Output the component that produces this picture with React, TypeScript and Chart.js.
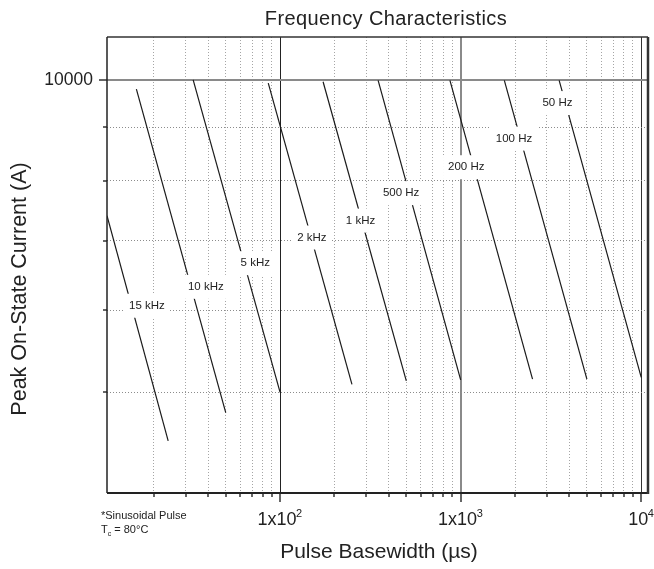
import React, { useEffect, useRef } from 'react';
import { Chart, registerables } from 'chart.js';

Chart.register(...registerables);

const FONT = '"Liberation Sans", Arial, Helvetica, sans-serif';

// Frequency curves (pulse basewidth in µs, peak current in A)
const frequencyLabels = ['15 kHz', '10 kHz', '5 kHz', '2 kHz', '1 kHz', '500 Hz', '200 Hz', '100 Hz', '50 Hz'];
const startWidth = [11, 16, 33, 86, 173, 349, 872, 1745, 3510];
const startCurrent = [7400, 9800, 10000, 9930, 9960, 9990, 9990, 9990, 9990];
const endWidth = [24, 50, 100, 250, 500, 1000, 2500, 5000, 10000];
const endCurrent = [4490, 4780, 5000, 5090, 5130, 5140, 5150, 5150, 5170];
const labelWidth = [18.3, 38.8, 72.9, 150, 279, 468, 1074, 1975, 3434];
const labelCurrent = [6060, 6320, 6660, 7050, 7320, 7780, 8240, 8780, 9500];

// Axes
const xMin = 11;
const xMax = 10900;
const yMin = 4000;
const yMax = 11000;
const xTickValues = [20, 30, 40, 50, 60, 70, 80, 90, 100, 200, 300, 400, 500, 600, 700, 800, 900, 1000, 2000, 3000, 4000, 5000, 6000, 7000, 8000, 9000, 10000];
const yTickValues = [5000, 6000, 7000, 8000, 9000, 10000];
const xMajorValues = [100, 1000, 10000];
const xMajorBase = ['1x10', '1x10', '10'];
const xMajorExp = ['2', '3', '4'];
const yLabeledValues = [10000];

const titleText = 'Frequency Characteristics';
const xTitle = 'Pulse Basewidth (\u00b5s)';
const yTitle = 'Peak On-State Current (A)';
const noteLine1 = '*Sinusoidal Pulse';
const noteLine2 = ['T', 'c', ' = 80\u00b0C'];

export default function App() {
  const ref = useRef<HTMLCanvasElement>(null);

  useEffect(() => {
    const canvas = ref.current;
    if (!canvas) return;

    const overlay = {
      id: 'overlay',
      afterDatasetsDraw(chart: any) {
        const { ctx, scales } = chart;
        const x = scales.x;
        const y = scales.y;
        ctx.save();
        ctx.font = `11.5px ${FONT}`;
        ctx.textAlign = 'center';
        ctx.textBaseline = 'middle';
        frequencyLabels.forEach((t, i) => {
          const px = x.getPixelForValue(labelWidth[i]);
          const py = y.getPixelForValue(labelCurrent[i]);
          const w = ctx.measureText(t).width;
          ctx.fillStyle = '#ffffff';
          ctx.fillRect(px - w / 2 - 5, py - 12, w + 10, 24);
          ctx.fillStyle = '#222222';
          ctx.fillText(t, px, py);
        });
        ctx.restore();
      },
      afterDraw(chart: any) {
        const { ctx, chartArea: a, scales } = chart;
        const x = scales.x;
        const y = scales.y;
        ctx.save();

        // tick marks
        ctx.strokeStyle = '#333333';
        ctx.lineWidth = 1.5;
        xTickValues.forEach((v) => {
          const px = Math.round(x.getPixelForValue(v));
          const len = xMajorValues.includes(v) ? 9 : 4;
          ctx.beginPath();
          ctx.moveTo(px, a.bottom);
          ctx.lineTo(px, a.bottom + len);
          ctx.stroke();
        });
        yTickValues.forEach((v) => {
          const py = Math.round(y.getPixelForValue(v));
          const len = yLabeledValues.includes(v) ? 8 : 4;
          ctx.beginPath();
          ctx.moveTo(a.left - len, py);
          ctx.lineTo(a.left, py);
          ctx.stroke();
        });

        // frame
        ctx.strokeStyle = '#333333';
        ctx.lineWidth = 1.5;
        ctx.beginPath();
        ctx.moveTo(a.left, a.top);
        ctx.lineTo(a.right, a.top);
        ctx.stroke();
        ctx.strokeStyle = '#222222';
        ctx.lineWidth = 1.5;
        ctx.beginPath();
        ctx.moveTo(a.left, a.top);
        ctx.lineTo(a.left, a.bottom);
        ctx.stroke();
        ctx.lineWidth = 2;
        ctx.beginPath();
        ctx.moveTo(a.left, a.bottom);
        ctx.lineTo(a.right, a.bottom);
        ctx.stroke();
        ctx.strokeStyle = '#333333';
        ctx.lineWidth = 2.5;
        ctx.beginPath();
        ctx.moveTo(a.right, a.top);
        ctx.lineTo(a.right, a.bottom + 1);
        ctx.stroke();

        // x labels with superscript exponents
        ctx.fillStyle = '#222222';
        ctx.textAlign = 'left';
        ctx.textBaseline = 'alphabetic';
        xMajorValues.forEach((v, i) => {
          const px = x.getPixelForValue(v);
          ctx.font = `18px ${FONT}`;
          const bw = ctx.measureText(xMajorBase[i]).width;
          ctx.font = `11px ${FONT}`;
          const ew = ctx.measureText(xMajorExp[i]).width;
          const left = px - (bw + ew) / 2;
          ctx.font = `18px ${FONT}`;
          ctx.fillText(xMajorBase[i], left, a.bottom + 32);
          ctx.font = `11px ${FONT}`;
          ctx.fillText(xMajorExp[i], left + bw - 0.5, a.bottom + 24);
        });

        // title
        ctx.fillStyle = '#222222';
        ctx.font = `20px ${FONT}`;
        ctx.textAlign = 'center';
        try { (ctx as any).letterSpacing = '0.4px'; } catch (e) {}
        ctx.fillText(titleText, 386, 25);
        try { (ctx as any).letterSpacing = '0px'; } catch (e) {}

        // x axis title
        ctx.font = `21px ${FONT}`;
        ctx.fillText(xTitle, 379, 558);

        // y axis title
        ctx.save();
        ctx.translate(26, 289);
        ctx.rotate(-Math.PI / 2);
        ctx.font = `21.5px ${FONT}`;
        ctx.textAlign = 'center';
        ctx.fillText(yTitle, 0, 0);
        ctx.restore();

        // note
        ctx.textAlign = 'left';
        ctx.font = `11px ${FONT}`;
        ctx.fillText(noteLine1, 101, 519);
        const tW = ctx.measureText(noteLine2[0]).width;
        ctx.fillText(noteLine2[0], 101, 533);
        ctx.font = `7px ${FONT}`;
        const cW = ctx.measureText(noteLine2[1]).width;
        ctx.fillText(noteLine2[1], 101 + tW, 536);
        ctx.font = `11px ${FONT}`;
        ctx.fillText(noteLine2[2], 101 + tW + cW, 533);

        ctx.restore();
      },
    };

    const datasets = frequencyLabels.map((label, i) => ({
      label,
      data: [
        { x: startWidth[i], y: startCurrent[i] },
        { x: endWidth[i], y: endCurrent[i] },
      ],
      borderColor: '#1a1a1a',
      borderWidth: 1.2,
      pointRadius: 0,
      fill: false,
      tension: 0,
    }));

    const chart = new Chart(canvas, {
      type: 'line',
      data: { datasets },
      options: {
        responsive: false,
        animation: false,
        devicePixelRatio: 1,
        layout: { padding: { top: 37, right: 6, left: 0, bottom: 0 } },
        plugins: {
          legend: { display: false },
          tooltip: { enabled: false },
          title: { display: false },
        },
        scales: {
          x: {
            type: 'logarithmic',
            min: xMin,
            max: xMax,
            afterBuildTicks: (scale: any) => {
              scale.ticks = xTickValues.map((v) => ({ value: v }));
            },
            afterFit: (scale: any) => {
              scale.height = 76;
            },
            ticks: { display: false, autoSkip: false },
            grid: {
              drawTicks: false,
              color: (c: any) => {
                const v = c.tick ? c.tick.value : 0;
                if (v === 100) return '#222222';
                if (v === 1000) return '#8a8a8a';
                if (v === 10000) return '#333333';
                return '#a5a5a5';
              },
              lineWidth: (c: any) => {
                const v = c.tick ? c.tick.value : 0;
                return v === 1000 ? 2 : 1;
              },
            },
            border: {
              display: false,
              dash: (c: any) => {
                const v = c.tick ? c.tick.value : 0;
                return xMajorValues.includes(v) ? [] : [1, 2];
              },
            },
          },
          y: {
            type: 'logarithmic',
            min: yMin,
            max: yMax,
            afterBuildTicks: (scale: any) => {
              scale.ticks = yTickValues.map((v) => ({ value: v }));
            },
            afterFit: (scale: any) => {
              scale.width = 107;
            },
            ticks: {
              autoSkip: false,
              padding: 14,
              color: '#222222',
              font: { family: FONT, size: 17.5 },
              callback: (v: any) => (yLabeledValues.includes(Number(v)) ? String(v) : ''),
            },
            grid: {
              drawTicks: false,
              color: (c: any) => {
                const v = c.tick ? c.tick.value : 0;
                return v === 10000 ? '#8a8a8a' : '#8c8c8c';
              },
              lineWidth: (c: any) => {
                const v = c.tick ? c.tick.value : 0;
                return v === 10000 ? 2 : 1;
              },
            },
            border: {
              display: false,
              dash: (c: any) => {
                const v = c.tick ? c.tick.value : 0;
                return yLabeledValues.includes(v) ? [] : [1, 2];
              },
            },
          },
        },
      },
      plugins: [overlay],
    } as any);

    return () => {
      chart.destroy();
    };
  }, []);

  return (
    <div style={{ position: 'absolute', left: 0, top: 0, width: 654, height: 569, background: '#ffffff' }}>
      <canvas ref={ref} width={654} height={569} style={{ display: 'block', width: 654, height: 569 }} />
    </div>
  );
}
